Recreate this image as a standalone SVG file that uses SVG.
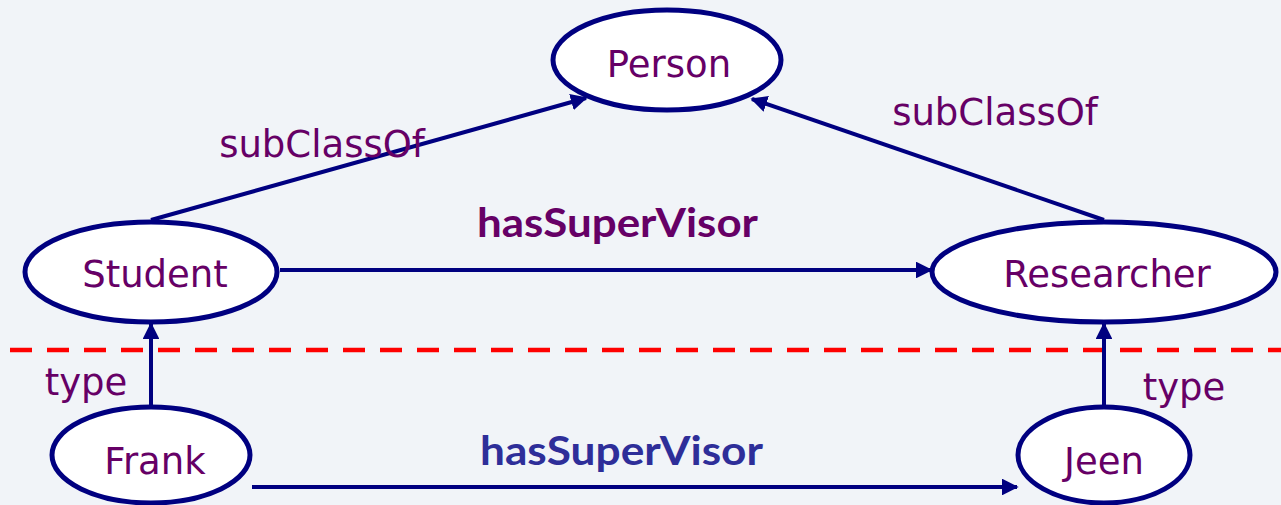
<svg xmlns="http://www.w3.org/2000/svg" width="1281" height="505" viewBox="0 0 1281 505">
<defs>
<marker id="arr" viewBox="0 0 10 10" refX="9" refY="5" markerWidth="4.2" markerHeight="4.2" orient="auto" markerUnits="strokeWidth">
<path d="M0,0 L10,5 L0,10 z" fill="#000080"/>
</marker>
<style>
.node ellipse{fill:#ffffff;stroke:#000080;stroke-width:5}
.lbl{font-family:"DejaVu Sans",Verdana,sans-serif;font-size:37px;fill:#660066;text-anchor:middle}
.edge{stroke:#000080;stroke-width:4;fill:none;marker-end:url(#arr)}
.bold{font-family:Lato,"Open Sans",sans-serif;font-weight:bold;font-size:41px}
</style>
</defs>
<rect width="1281" height="505" fill="#f1f4f8"/>
<line x1="10" y1="350" x2="1281" y2="350" stroke="#ff0000" stroke-width="4.5" stroke-dasharray="22 15"/>
<g id="connectors">
<line class="edge" x1="151" y1="220" x2="586" y2="98"/>
<line class="edge" x1="1104" y1="220" x2="752" y2="99"/>
<line class="edge" x1="280" y1="270" x2="931" y2="270"/>
<line class="edge" x1="151" y1="407" x2="151" y2="324"/>
<line class="edge" x1="1104" y1="407" x2="1104" y2="324"/>
<line class="edge" x1="252" y1="487" x2="1017" y2="487"/>
<text class="lbl" x="322" y="157">subClassOf</text>
<text class="lbl" x="995" y="125">subClassOf</text>
<text class="bold" x="477" y="237" fill="#660066" textLength="281" lengthAdjust="spacingAndGlyphs">hasSuperVisor</text>
<text class="bold" x="480" y="465" fill="#2e2e99" textLength="283" lengthAdjust="spacingAndGlyphs">hasSuperVisor</text>
<text class="lbl" x="86" y="395">type</text>
<text class="lbl" x="1184" y="400">type</text>
</g>
<g id="person" class="node"><ellipse cx="667" cy="60" rx="114" ry="50"/><text class="lbl" x="669" y="77">Person</text></g>
<g id="student" class="node"><ellipse cx="151" cy="272" rx="126" ry="50"/><text class="lbl" x="155" y="287">Student</text></g>
<g id="researcher" class="node"><ellipse cx="1104" cy="272" rx="172" ry="50"/><text class="lbl" x="1107" y="287">Researcher</text></g>
<g id="frank" class="node"><ellipse cx="151" cy="455" rx="99" ry="48"/><text class="lbl" x="155" y="474">Frank</text></g>
<g id="jeen" class="node"><ellipse cx="1104" cy="455" rx="86" ry="48"/><text class="lbl" x="1104" y="474">Jeen</text></g>
</svg>
